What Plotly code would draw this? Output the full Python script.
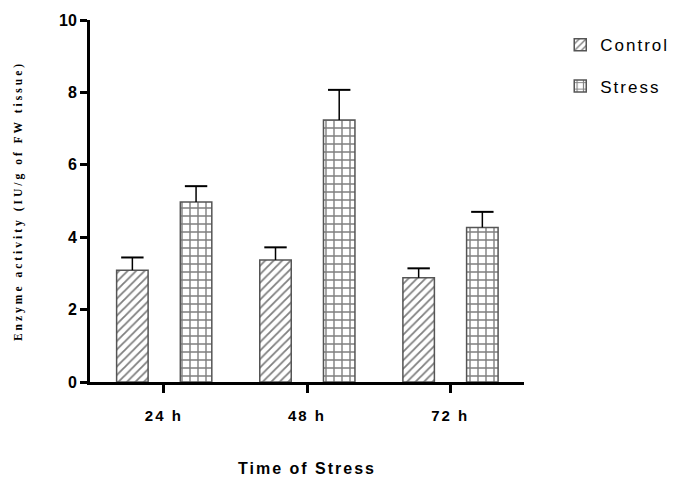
import plotly.graph_objects as go

categories = ["24 h", "48 h", "72 h"]
control_vals = [3.09, 3.37, 2.88]
control_err = [0.35, 0.35, 0.26]
stress_vals = [4.97, 7.24, 4.27]
stress_err = [0.44, 0.83, 0.43]

pos = list(range(len(categories)))
BW = 0.22
C_OFF = -0.33
S_OFF = 0.115
LS = "letter-spacing:2px"

fig = go.Figure()
fig.add_trace(go.Bar(
    x=pos, y=control_vals, name=f'<span style="{LS}">Control</span>',
    width=BW, offset=C_OFF,
    marker=dict(color="white", line=dict(color="#555555", width=1.5),
                pattern=dict(shape="/", fgcolor="black", bgcolor="white", size=6, solidity=0.3)),
    error_y=dict(type="data", symmetric=False, array=control_err, arrayminus=[0, 0, 0],
                 color="black", thickness=1.5, width=0),
    legendgroup="a",
))
fig.add_trace(go.Bar(
    x=pos, y=stress_vals, name=f'<span style="{LS}">Stress</span>',
    width=BW, offset=S_OFF,
    marker=dict(color="white", line=dict(color="#555555", width=1.5),
                pattern=dict(shape="+", fgcolor="black", bgcolor="white", size=8, solidity=0.32)),
    error_y=dict(type="data", symmetric=False, array=stress_err, arrayminus=[0, 0, 0],
                 color="black", thickness=1.5, width=0),
    legendgroup="b",
))
# error-bar caps (top only)
fig.add_trace(go.Scatter(
    x=[p + C_OFF + BW / 2 for p in pos],
    y=[v + e for v, e in zip(control_vals, control_err)],
    mode="markers", showlegend=False, hoverinfo="skip",
    marker=dict(symbol="line-ew", size=16, line=dict(color="black", width=2)),
))
fig.add_trace(go.Scatter(
    x=[p + S_OFF + BW / 2 for p in pos],
    y=[v + e for v, e in zip(stress_vals, stress_err)],
    mode="markers", showlegend=False, hoverinfo="skip",
    marker=dict(symbol="line-ew", size=16, line=dict(color="black", width=2)),
))

fig.update_layout(
    width=677, height=504,
    margin=dict(l=82, r=160, t=12, b=130),
    plot_bgcolor="white", paper_bgcolor="white",
    font=dict(family="Liberation Sans, Arial", color="black"),
    showlegend=True,
    legend=dict(x=1.081, y=0.98, xanchor="left", yanchor="top",
                font=dict(size=17, family="Liberation Sans, Arial"),
                traceorder="grouped", tracegroupgap=16, itemwidth=30),
    xaxis=dict(
        range=[-0.516, 2.516], showline=True, linecolor="black", linewidth=3,
        ticks="outside", ticklen=8, tickwidth=3, tickcolor="black",
        showgrid=False, zeroline=False, automargin=False,
        tickvals=pos,
        ticktext=[f'<span style="{LS}"><b>{c}</b></span>' for c in categories],
        tickfont=dict(size=15, family="Liberation Sans, Arial"),
        ticklabelstandoff=10,
        title=dict(text=f'<span style="{LS}"><b>Time of Stress</b></span>',
                   font=dict(size=16, family="Liberation Sans, Arial"), standoff=40),
    ),
    yaxis=dict(
        range=[0, 10], showline=True, linecolor="black", linewidth=3,
        ticks="outside", ticklen=7, tickwidth=3, tickcolor="black",
        showgrid=False, zeroline=False, automargin=False,
        tickvals=[0, 2, 4, 6, 8, 10],
        ticktext=[f"<b>{v}</b>" for v in [0, 2, 4, 6, 8, 10]],
        tickfont=dict(size=16, family="Liberation Sans, Arial"),
        title=dict(text='<span style="letter-spacing:3px"><b>Enzyme activity (IU/g of FW tissue)</b></span>',
                   font=dict(size=11.5, family="Liberation Serif, Times New Roman"), standoff=34),
    ),
)

fig.write_html("out.html")
